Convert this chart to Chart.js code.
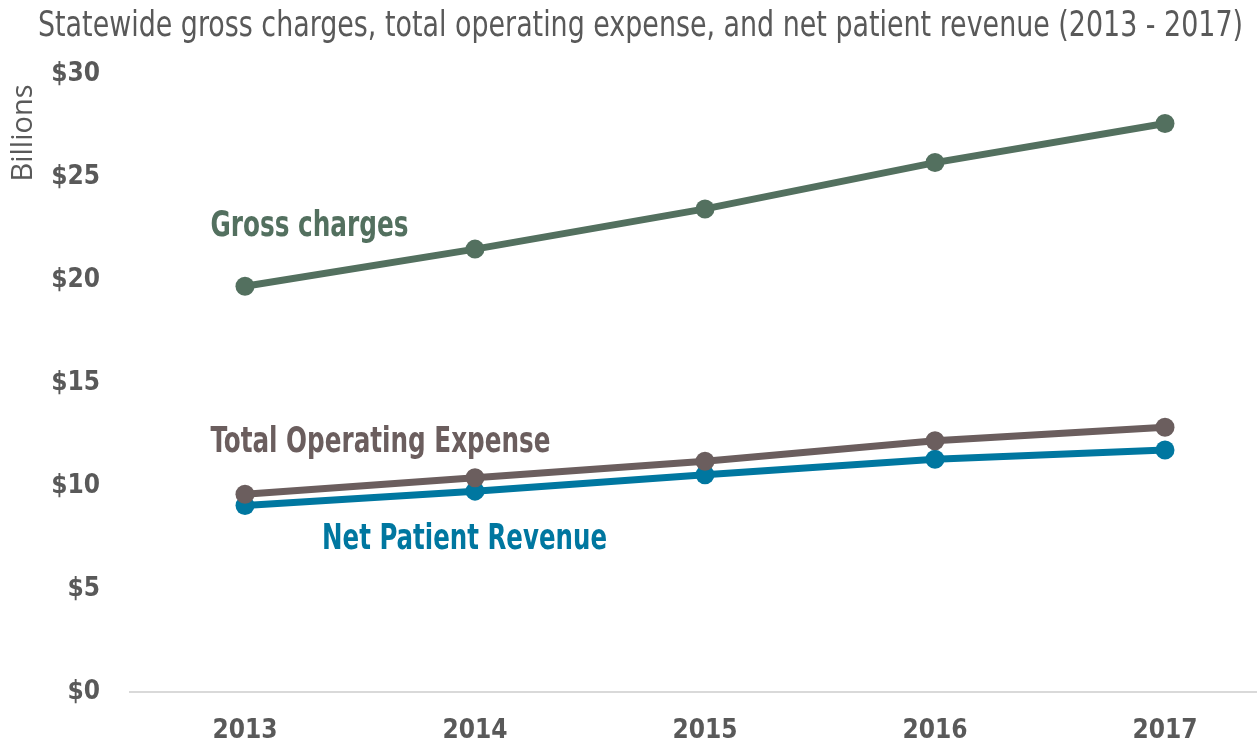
<!DOCTYPE html>
<html>
<head>
<meta charset="utf-8">
<title>Statewide gross charges</title>
<script src="https://cdn.jsdelivr.net/npm/chart.js@4"></script>
<style>
  html, body { margin: 0; padding: 0; background: #fff; overflow: hidden; }
  #wrap { width: 1257px; height: 744px; }
  canvas { display: block; }
</style>
</head>
<body>
<div id="wrap"><canvas id="myChart"></canvas></div>
<script>
const years = [2013, 2014, 2015, 2016, 2017];
const grossCharges = [19.7, 21.5, 23.45, 25.7, 27.6];
const operatingExpense = [9.6, 10.4, 11.2, 12.2, 12.85];
const netPatientRevenue = [9.05, 9.75, 10.55, 11.3, 11.75];
const yTicks = [0, 5, 10, 15, 20, 25, 30];

const condensed = "'DejaVu Sans Condensed', 'Liberation Sans Narrow', sans-serif";
const grey = '#595959';

// series name, colour, where the name starts (year / $ billions) and its drawn width
const seriesLabels = [
  { text: 'Gross charges', color: '#53705f', x: 2012.85, y: 22.6, w: 198 },
  { text: 'Total Operating Expense', color: '#6b5e5e', x: 2012.85, y: 12.1, w: 340 },
  { text: 'Net Patient Revenue', color: '#0077a0', x: 2013.335, y: 7.4, w: 285 }
];

const toPoints = vals => vals.map((v, i) => ({ x: years[i], y: v }));

const lineStyle = color => ({
  borderColor: color,
  backgroundColor: color,
  borderWidth: 7,
  pointRadius: 9.5,
  pointHoverRadius: 9.5,
  pointBorderWidth: 0,
  tension: 0
});

// squeeze text into a given width so it reads like a narrow face
function fitText(ctx, text, x, y, width) {
  const natural = ctx.measureText(text).width;
  const k = Math.min(1, width / natural);
  ctx.save();
  ctx.translate(x, y);
  ctx.scale(k, 1);
  ctx.fillText(text, 0, 0);
  ctx.restore();
}

const textPlugin = {
  id: 'textPlugin',
  afterDraw(chart) {
    const ctx = chart.ctx;
    const xs = chart.scales.x;
    const ys = chart.scales.y;
    ctx.save();

    ctx.fillStyle = grey;
    ctx.font = '35px ' + condensed;
    ctx.textAlign = 'left';
    ctx.textBaseline = 'middle';
    fitText(ctx, 'Statewide gross charges, total operating expense, and net patient revenue (2013 - 2017)', 38, 27, 1205);

    ctx.save();
    ctx.translate(24, 133);
    ctx.rotate(-Math.PI / 2);
    ctx.textAlign = 'center';
    ctx.font = '29px "Open Sans", sans-serif';
    ctx.fillText('Billions', 0, 0);
    ctx.restore();

    ctx.font = 'bold 35px ' + condensed;
    seriesLabels.forEach(l => {
      ctx.fillStyle = l.color;
      fitText(ctx, l.text, xs.getPixelForValue(l.x), ys.getPixelForValue(l.y), l.w);
    });
    ctx.restore();
  }
};

new Chart(document.getElementById('myChart'), {
  type: 'line',
  data: {
    datasets: [
      { label: 'Gross charges', data: toPoints(grossCharges), ...lineStyle('#53705f') },
      { label: 'Total Operating Expense', data: toPoints(operatingExpense), ...lineStyle('#6b5e5e') },
      { label: 'Net Patient Revenue', data: toPoints(netPatientRevenue), ...lineStyle('#0077a0') }
    ]
  },
  options: {
    responsive: true,
    maintainAspectRatio: false,
    animation: false,
    layout: { autoPadding: false, padding: { top: 74, left: 0, right: 0, bottom: 0 } },
    plugins: {
      legend: { display: false },
      tooltip: { enabled: false }
    },
    scales: {
      x: {
        type: 'linear',
        min: 2012.5,
        max: 2017.4,
        afterFit: s => {
          s.height = 52;
          s.paddingLeft = 0;
          s.paddingRight = 0;
        },
        afterBuildTicks: s => { s.ticks = years.map(v => ({ value: v })); },
        grid: { display: false, drawTicks: false },
        border: { display: true, color: '#d9d9d9', width: 2 },
        ticks: {
          color: grey,
          font: { family: condensed, size: 26, weight: 'bold' },
          padding: 24,
          callback: v => String(v)
        }
      },
      y: {
        min: 0,
        max: 30,
        afterFit: s => {
          s.width = 130;
          s.paddingTop = 0;
          s.paddingBottom = 0;
        },
        afterBuildTicks: s => { s.ticks = yTicks.map(v => ({ value: v })); },
        grid: { display: false, drawTicks: false },
        border: { display: false },
        ticks: {
          color: grey,
          font: { family: condensed, size: 26, weight: 'bold' },
          padding: 30,
          callback: v => '$' + v
        }
      }
    }
  },
  plugins: [textPlugin]
});
</script>
</body>
</html>
